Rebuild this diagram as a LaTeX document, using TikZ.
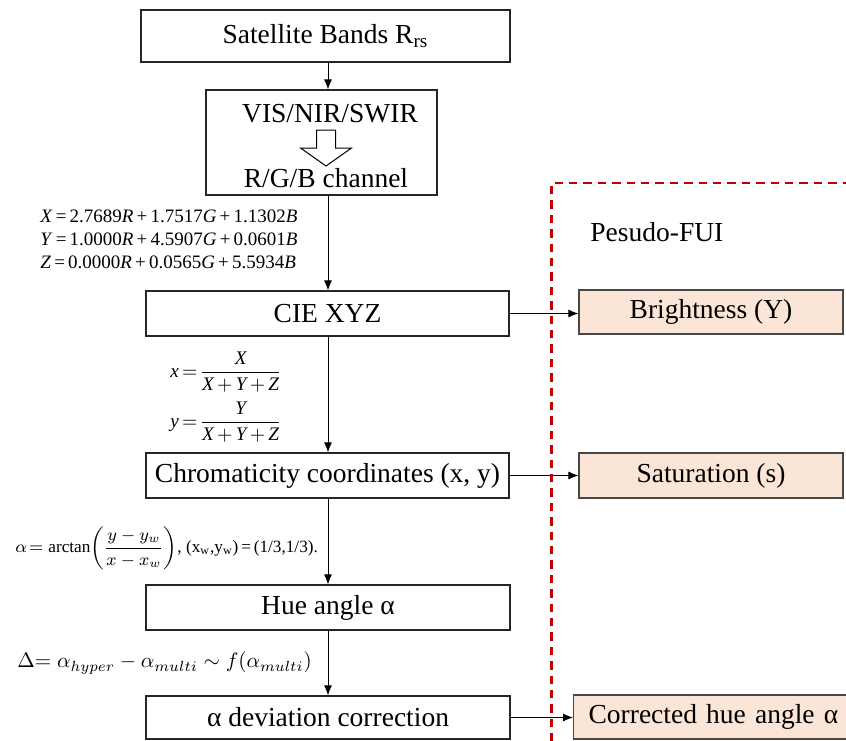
\documentclass[tikz,border=0pt]{standalone}
\usepackage{fix-cm}
\usepackage{amsmath}
\usepackage{fontspec}
\setmainfont{Liberation Serif}
\usetikzlibrary{arrows.meta}
\definecolor{peach}{HTML}{FBE5D6}
\definecolor{fuired}{HTML}{C00000}
\begin{document}
\begin{tikzpicture}[x=0.5pt,y=-0.5pt,
  box/.style={draw=black!85, line width=0.6pt, fill=white, inner sep=0pt, font=\fontsize{13.75}{16.5}\selectfont},
  fbox/.style={box, fill=peach, draw=black!72},
  arr/.style={-{Latex[length=5pt,width=4pt]}, line width=0.5pt, black},
  lbl/.style={inner sep=0pt, font=\fontsize{13.75}{16.5}\selectfont},
  eqa/.style={inner sep=0pt, font=\fontsize{9.5}{11}\selectfont},
  eqb/.style={inner sep=0pt, font=\fontsize{9.6}{12}\selectfont},
  eqc/.style={inner sep=0pt, font=\fontsize{8.6}{10}\selectfont},
  eqd/.style={inner sep=0pt, font=\fontsize{10.5}{12.5}\selectfont},
  reddash/.style={draw=fuired, line width=1.35pt, dash pattern=on 4.2pt off 3pt}]
\clip (0,0) rectangle (846,740);

% main chain
\node[box, minimum width=184.5pt, minimum height=26pt] (sat) at (325.5,36) {Satellite Bands R\textsubscript{rs}};
\node[box, minimum width=115.5pt, minimum height=52.5pt] (vis) at (321.5,142.5) {};
\node[lbl, anchor=base] (vist) at (330,122) {VIS/NIR/SWIR};
\node[lbl, anchor=base] (rgbt) at (326,187) {R/G/B channel};
\draw[line width=0.5pt, fill=white] (316.5,130) -- (335.5,130) -- (335.5,148) -- (351.5,148) -- (326,166) -- (300.5,148) -- (316.5,148) -- cycle;

\node[box, minimum width=181.5pt, minimum height=22.5pt] (cie) at (327.5,313.5) {CIE XYZ};
\node[box, minimum width=181.5pt, minimum height=22.5pt] (chr) at (327.5,475.5) {Chromaticity coordinates (x, y)};
\node[box, minimum width=182pt, minimum height=22.5pt] (hue) at (328,607.5) {Hue angle α};
\node[box, minimum width=182pt, minimum height=21.5pt] (dev) at (328,717.5) {α deviation correction};

% right column
\node[fbox, minimum width=132pt, minimum height=22pt] (bri) at (711,312) {Brightness (Y)};
\node[fbox, minimum width=132pt, minimum height=22.5pt] (sat2) at (711,475.5) {Saturation (s)};
\node[fbox, anchor=west, minimum height=22pt, text width=146pt, inner xsep=7.5pt, align=left] (corr) at (573,717) {Corrected hue angle α};

% connectors
\coordinate (ax) at (328,0);
\draw[arr] (sat.south -| ax) -- (vis.north -| ax);
\draw[arr] (vis.south -| ax) -- (cie.north -| ax);
\draw[arr] (cie.south -| ax) -- (chr.north -| ax);
\draw[arr] (chr.south -| ax) -- (hue.north -| ax);
\draw[arr] (hue.south -| ax) -- (dev.north -| ax);
\draw[arr] (cie.east) -- (cie.east -| bri.west);
\draw[arr] (chr.east) -- (chr.east -| sat2.west);
\draw[arr] (dev.east) -- (dev.east -| corr.west);

% dashed Pesudo-FUI region
\draw[reddash] (551.5,900) -- (551.5,183) -- (900,183);
\node[lbl, anchor=base west] (pf) at (590,241) {Pesudo-FUI};

% formulas
\node[eqa, anchor=base west] (e1) at (40,222) {\textit{X}\,=\,2.7689\textit{R}\,+\,1.7517\textit{G}\,+\,1.1302\textit{B}};
\node[eqa, anchor=base west] (e2) at (40,245) {\textit{Y}\,=\,1.0000\textit{R}\,+\,4.5907\textit{G}\,+\,0.0601\textit{B}};
\node[eqa, anchor=base west] (e3) at (40,268) {\textit{Z}\,=\,0.0000\textit{R}\,+\,0.0565\textit{G}\,+\,5.5934\textit{B}};

\node[eqb, anchor=west] (fx) at (170,372) {$\textit{x}\mkern3mu{=}\mkern2mu\dfrac{\textit{X}}{\textit{X}\mkern3mu{+}\mkern3mu\textit{Y}\mkern3mu{+}\mkern3mu\textit{Z}}$};
\node[eqb, anchor=west] (fy) at (170,422) {$\textit{y}\mkern3mu{=}\mkern2mu\dfrac{\textit{Y}}{\textit{X}\mkern3mu{+}\mkern3mu\textit{Y}\mkern3mu{+}\mkern3mu\textit{Z}}$};

\node[eqc, anchor=west] (ea) at (15,548) {$\alpha\mkern2mu{=}\mkern2mu\arctan\!\left(\dfrac{y-y_w}{x-x_w}\right)$,\ (x\textsubscript{w},y\textsubscript{w})\,=\,(1/3,1/3).};

\node[eqd, anchor=west] (ed) at (17,663) {$\Delta{=}\;\alpha_{hyper}-\alpha_{multi}\sim f(\alpha_{multi})$};
\end{tikzpicture}
\end{document}
